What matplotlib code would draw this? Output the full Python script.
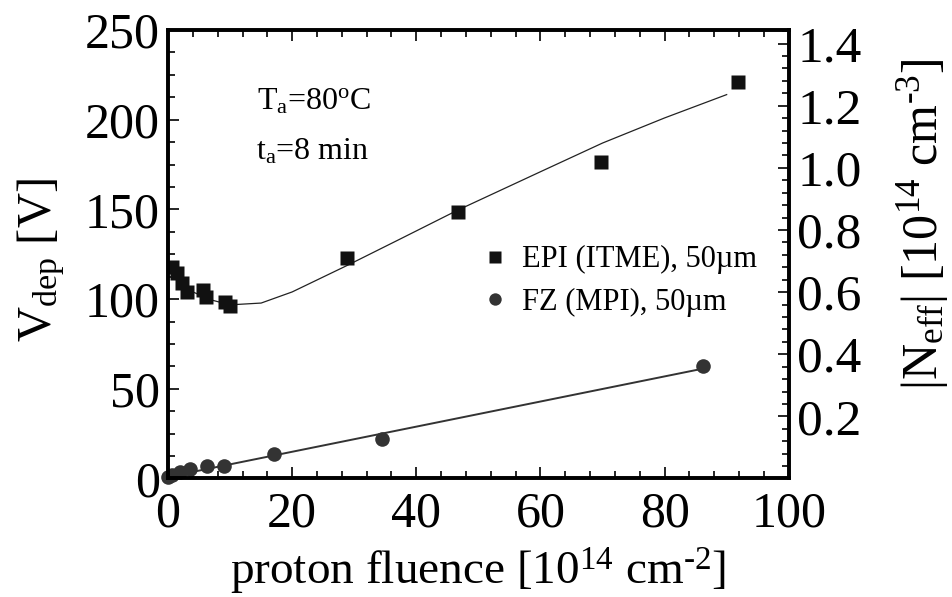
import numpy as np
import matplotlib
matplotlib.use("Agg")
import matplotlib.pyplot as plt
from matplotlib.ticker import MultipleLocator, FormatStrFormatter

plt.rcParams['font.family'] = ['Liberation Serif', 'DejaVu Serif']
plt.rcParams['mathtext.fontset'] = 'custom'
plt.rcParams['mathtext.rm'] = 'Liberation Serif'
plt.rcParams['mathtext.it'] = 'Liberation Serif:italic'

# EPI (ITME) 50um - measured points
epi_fluence = [0.6, 1.4, 2.2, 3.0, 5.6, 6.1, 9.2, 10.0, 28.9, 46.7, 69.7, 91.8]
epi_vdep = [118.0, 114.4, 108.8, 104.1, 105.0, 101.0, 98.5, 96.3, 122.7, 148.4, 176.3, 221.2]

# EPI fit curve
epi_fit_fluence = [0, 2, 4, 7, 10, 15, 20, 29, 37.4, 46.5, 60, 70, 80, 90]
epi_fit_vdep = [118.5, 110, 104, 99.5, 96.8, 97.8, 104, 119, 133.5, 149.3, 171, 187, 201, 214]

# FZ (MPI) 50um - measured points
fz_fluence = [0.0, 0.6, 2.0, 3.6, 6.2, 9.0, 17.1, 34.5, 86.2]
fz_vdep = [1.0, 2.0, 3.8, 5.1, 6.8, 7.0, 13.5, 21.8, 62.9]

# FZ linear fit
fz_fit_fluence = [0, 85.7]
fz_fit_vdep = [0.9, 60.9]

# Vdep -> |Neff| scale for 50um thickness
v_per_neff = 173.2

fig = plt.figure(figsize=(9.52, 5.97), dpi=100)
ax = fig.add_axes([0.1765, 0.1985, 0.652, 0.7512])

ax.plot(epi_fit_fluence, epi_fit_vdep, color='#222222', lw=0.9)
ax.plot(fz_fit_fluence, fz_fit_vdep, color='#333333', lw=1.4)
ax.plot(epi_fluence, epi_vdep, 's', color='#111111', ms=10, mec='none',
        label='EPI (ITME), 50µm')
ax.plot(fz_fluence, fz_vdep, 'o', color='#333333', ms=10.5, mec='none',
        label='FZ (MPI), 50µm', clip_on=False)

ax.set_xlim(0, 100)
ax.set_ylim(0, 250)
ax.xaxis.set_major_locator(MultipleLocator(20))
ax.xaxis.set_minor_locator(MultipleLocator(4))
ax.yaxis.set_major_locator(MultipleLocator(50))
ax.yaxis.set_minor_locator(MultipleLocator(12.5))
ax.tick_params(which='both', direction='in', top=True, right=False, width=1.2)
ax.tick_params(which='major', length=8, labelsize=36)
ax.tick_params(which='minor', length=5)
ax.tick_params(axis='x', which='major', pad=9)
ax.tick_params(axis='y', which='major', pad=6)
for s in ax.spines.values():
    s.set_linewidth(2.6)

ax.set_xlabel('proton fluence [10$^{14}$ cm$^{\\text{-}2}$]', fontsize=34, labelpad=6)
ax.set_ylabel('V$_{\\mathrm{dep}}$ [V]', fontsize=35)
ax.yaxis.set_label_coords(-0.163, 0.487)

ax2 = ax.twinx()
ax2.set_ylim(0, 250 / v_per_neff)
ax2.yaxis.set_minor_locator(MultipleLocator(0.04))
ax2.yaxis.set_major_formatter(FormatStrFormatter('%.1f'))
ax2.set_yticks(np.arange(0.2, 1.41, 0.2))
ax2.tick_params(which='both', direction='in', width=1.2)
ax2.tick_params(which='major', length=8, labelsize=37, pad=6)
ax2.tick_params(which='minor', length=5)
ax2.set_ylabel('|N$_{\\mathrm{eff}}$| [10$^{14}$ cm$^{\\text{-}3}$]', fontsize=36)
ax2.yaxis.set_label_coords(1.172, 0.567)
for s in ax2.spines.values():
    s.set_linewidth(2.6)

ax.text(0.143, 0.84, 'T$_{\\mathrm{a}}$=80$^{\\mathrm{o}}$C', transform=ax.transAxes,
        fontsize=23, va='center')
ax.text(0.141, 0.728, 't$_{\\mathrm{a}}$=8 min', transform=ax.transAxes,
        fontsize=23, va='center')

ax.legend(loc='center left', bbox_to_anchor=(0.462, 0.44), frameon=False,
          fontsize=22, handlelength=0.8, handletextpad=0.5, labelspacing=0.45,
          markerscale=0.85)

fig.savefig('out.png', dpi=100)
